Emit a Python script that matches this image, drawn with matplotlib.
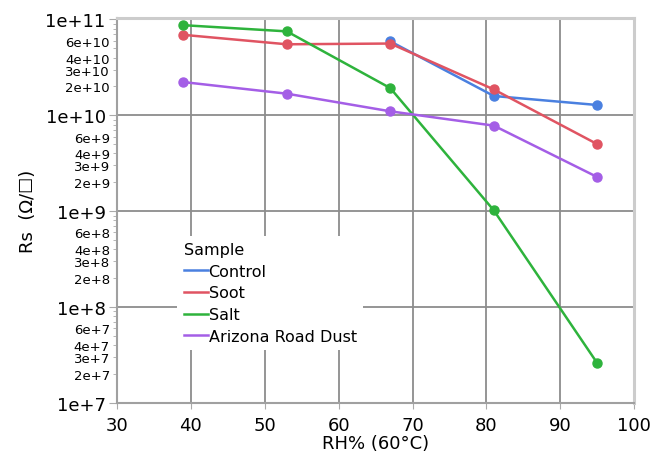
import matplotlib
matplotlib.use("Agg")
import matplotlib.pyplot as plt
from matplotlib.ticker import FixedLocator, FixedFormatter
import numpy as np

# Relative humidity setpoints (%) at 60 °C
rh = [39, 53, 67, 81, 95]

# Surface resistance Rs (ohm/sq) per sample
control_rh = [67, 81, 95]
control = [5.9e10, 1.59e10, 1.28e10]
soot = [6.9e10, 5.5e10, 5.6e10, 1.86e10, 5.0e9]
salt = [8.7e10, 7.5e10, 1.92e10, 1.02e9, 2.6e7]
dust = [2.22e10, 1.68e10, 1.1e10, 7.8e9, 2.27e9]

series_names = ["Control", "Soot", "Salt", "Arizona Road Dust"]
colors = ["#4a80e0", "#e05462", "#2eb33c", "#a45ee6"]

x_ticks = [30, 40, 50, 60, 70, 80, 90, 100]
major_y = [1e7, 1e8, 1e9, 1e10, 1e11]
major_y_labels = ["1e+7", "1e+8", "1e+9", "1e+10", "1e+11"]

plt.rcParams["font.family"] = ["DejaVu Sans"]

fig = plt.figure(figsize=(6.6, 4.56), dpi=100)
ax = fig.add_axes([0.177, 0.114, 0.784, 0.844])

ax.set_yscale("log")
ax.set_xlim(30, 100)
ax.set_ylim(1e7, 1.03e11)

# grid
for xv in x_ticks[1:-1]:
    ax.axvline(xv, color="#8c8c8c", lw=1.3, zorder=1)
for yv in major_y[1:]:
    ax.axhline(yv, color="#8c8c8c", lw=1.3, zorder=1)

ys = [control, soot, salt, dust]
xs = [control_rh, rh, rh, rh]
for name, xv, yv, c in zip(series_names, xs, ys, colors):
    ax.plot(xv, yv, color=c, lw=1.8, marker="o", ms=6.5, label=name, zorder=3)

# ticks
ax.xaxis.set_major_locator(FixedLocator(x_ticks))
ax.tick_params(axis="x", labelsize=13, length=4, color="#aaaaaa", pad=5)
ax.yaxis.set_major_locator(FixedLocator(major_y))
ax.yaxis.set_major_formatter(FixedFormatter(major_y_labels))
minor_vals = []
minor_labels = []
for d in [1e7, 1e8, 1e9, 1e10]:
    for m in range(2, 10):
        minor_vals.append(m * d)
        if m in (2, 3, 4, 6):
            e = int(np.log10(d))
            minor_labels.append(f"{m}e+{e}")
        else:
            minor_labels.append("")
ax.yaxis.set_minor_locator(FixedLocator(minor_vals))
ax.yaxis.set_minor_formatter(FixedFormatter(minor_labels))
ax.tick_params(axis="y", which="major", labelsize=13, length=6,
               color="#aaaaaa", pad=2)
ax.tick_params(axis="y", which="minor", labelsize=9.5, length=3,
               color="#aaaaaa", pad=2)

for s in ["top", "right"]:
    ax.spines[s].set_color("#cccccc")
    ax.spines[s].set_linewidth(2.2)
for s in ["left", "bottom"]:
    ax.spines[s].set_color("#a0a0a0")
    ax.spines[s].set_linewidth(1.5)

ax.set_xlabel("RH% (60°C)", fontsize=13, labelpad=0)
ax.set_ylabel("Rs  (Ω/☐)", fontsize=13, labelpad=6)

leg = ax.legend(handles=[plt.Line2D([], [], color=c, lw=1.8) for c in colors],
                labels=series_names, title="Sample",
                loc="upper left", bbox_to_anchor=(0.117, 0.435),
                frameon=True, fontsize=11.5, title_fontsize=11.5,
                handlelength=1.5, handletextpad=0.05, labelspacing=0.42,
                borderpad=0.4, borderaxespad=0)
leg.get_frame().set_edgecolor("none")
leg.get_frame().set_facecolor("white")
leg.get_frame().set_alpha(1.0)
leg._legend_box.align = "left"
leg.set_zorder(5)

fig.savefig("out.png", dpi=100)
